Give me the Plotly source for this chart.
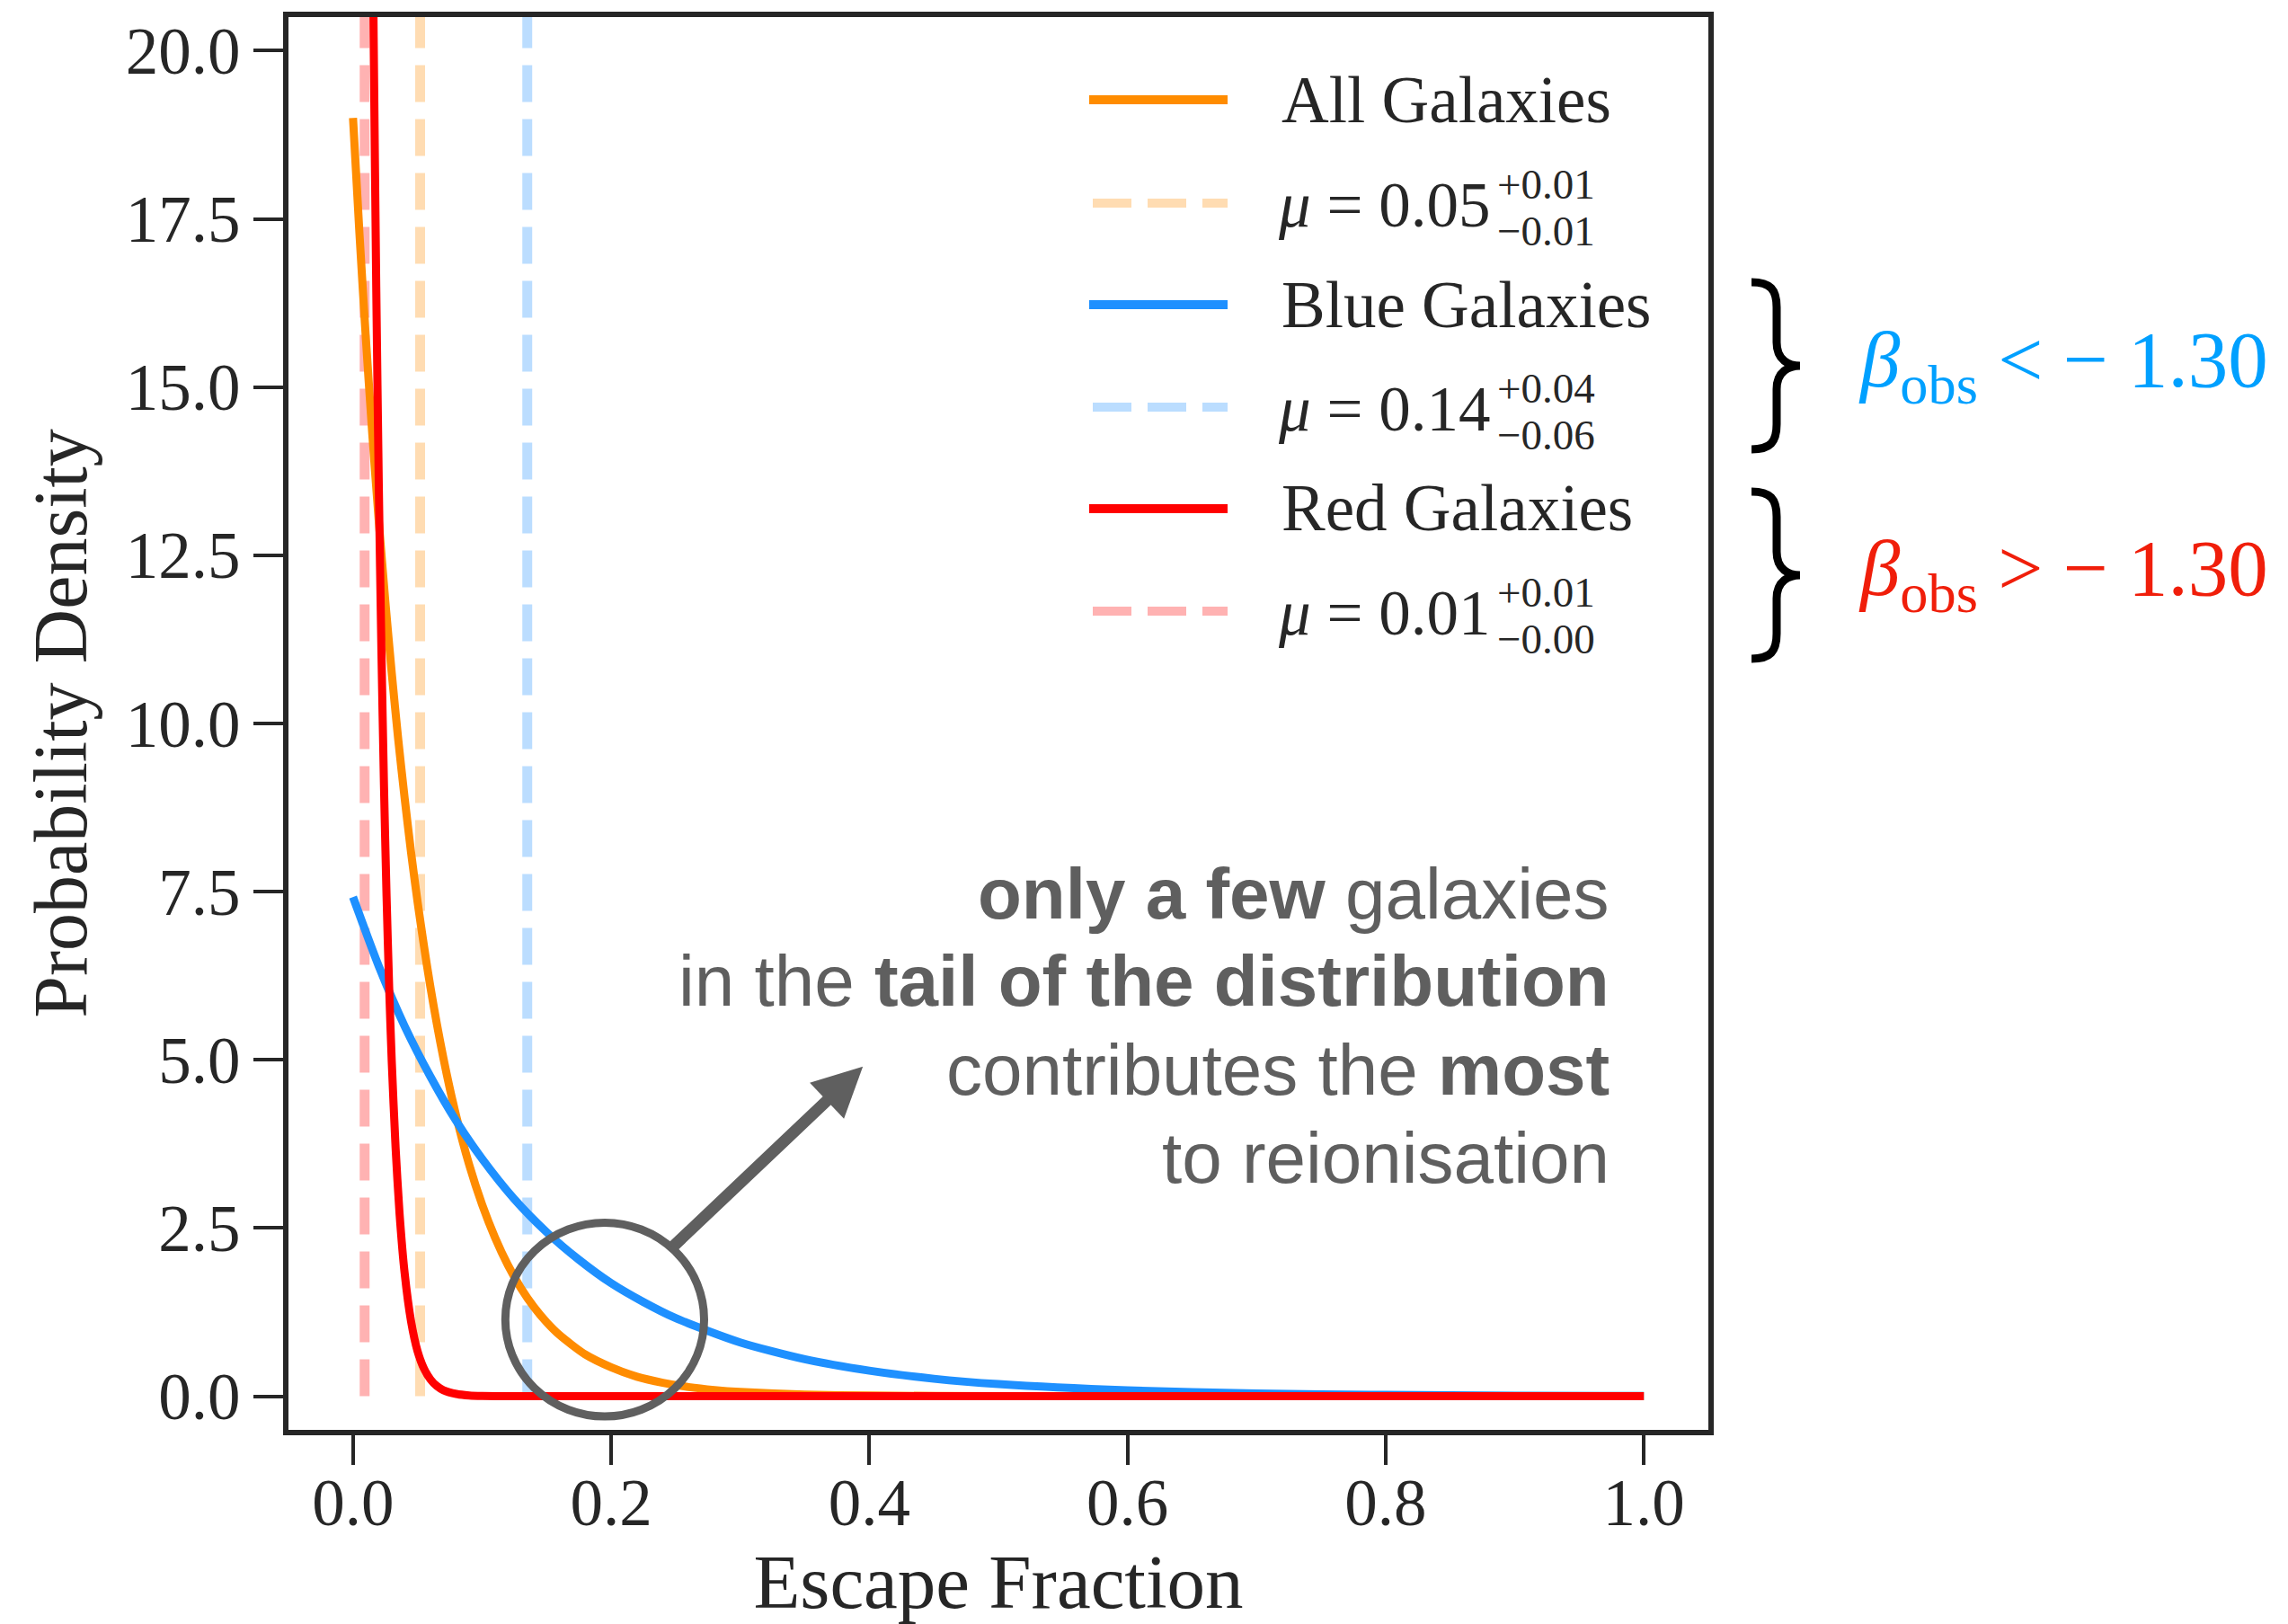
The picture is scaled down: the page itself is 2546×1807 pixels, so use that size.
import plotly.graph_objects as go

# ---------------- data ----------------
all_x = [0.000, 0.005, 0.010, 0.015, 0.020, 0.025, 0.030, 0.035, 0.040, 0.045, 0.050,
         0.060, 0.070, 0.080, 0.090, 0.100, 0.110, 0.120, 0.130, 0.140, 0.150, 0.160,
         0.180, 0.200, 0.220, 0.240, 0.260, 0.280, 0.300, 0.350, 0.400, 0.500, 0.600,
         0.700, 0.800, 0.900, 1.000]
all_y = [19.00, 17.28, 15.71, 14.29, 13.00, 11.82, 10.75, 9.77, 8.89, 8.08, 7.35,
         6.08, 5.03, 4.16, 3.44, 2.85, 2.36, 1.95, 1.61, 1.33, 1.10, 0.91,
         0.62, 0.43, 0.29, 0.20, 0.136, 0.093, 0.064, 0.025, 0.0095, 0.0014, 0.0002,
         0.0, 0.0, 0.0, 0.0]

blue_x = [0.00, 0.02, 0.04, 0.06, 0.08, 0.10, 0.125, 0.15, 0.175, 0.20, 0.225, 0.25,
          0.30, 0.35, 0.40, 0.45, 0.50, 0.60, 0.70, 0.80, 0.90, 1.00]
blue_y = [7.42, 6.39, 5.50, 4.75, 4.09, 3.53, 2.93, 2.44, 2.03, 1.68, 1.40, 1.16,
          0.80, 0.55, 0.38, 0.26, 0.18, 0.087, 0.041, 0.020, 0.009, 0.004]

red_x = [0.000, 0.004, 0.008, 0.012, 0.014, 0.016, 0.018, 0.020, 0.022, 0.024, 0.026,
         0.028, 0.030, 0.033, 0.036, 0.040, 0.045, 0.050, 0.055, 0.060, 0.065, 0.070,
         0.080, 0.090, 0.100, 0.120, 0.150, 0.200, 0.400, 0.600, 0.800, 1.000]
red_y = [100.0, 67.0, 44.9, 30.1, 24.7, 20.2, 16.5, 13.5, 11.1, 9.07, 7.43,
         6.08, 4.98, 3.69, 2.73, 1.83, 1.11, 0.67, 0.41, 0.25, 0.15, 0.09,
         0.034, 0.012, 0.005, 0.0006, 0.0, 0.0, 0.0, 0.0, 0.0, 0.0]

series_names = ["All Galaxies", "Blue Galaxies", "Red Galaxies"]
series_colors = ["#FF8C00", "#1E90FF", "#FF0000"]
mu_lines = [0.052, 0.135, 0.009]          # positions of the dashed mean lines
mu_text = ["0.05", "0.14", "0.01"]
mu_up = ["+0.01", "+0.04", "+0.01"]
mu_dn = ["\u22120.01", "\u22120.06", "\u22120.00"]
dash_colors = ["rgba(255,140,0,0.3)", "rgba(30,144,255,0.3)", "rgba(255,0,0,0.3)"]

x_ticks = [0.0, 0.2, 0.4, 0.6, 0.8, 1.0]
y_ticks = [0.0, 2.5, 5.0, 7.5, 10.0, 12.5, 15.0, 17.5, 20.0]

note_lines = ["<b>only a few</b> galaxies",
              "in the <b>tail of the distribution</b>",
              "contributes the <b>most</b>",
              "to reionisation"]
beta_texts = ["<i>\u03b2</i><sub>obs</sub> &lt; \u2212 1.30",
              "<i>\u03b2</i><sub>obs</sub> &gt; \u2212 1.30"]
beta_colors = ["#00A0FF", "#F01E0A"]

# ---------------- layout geometry ----------------
W, H = 2546, 1807
L, R, T, B = 321, 645, 19, 216
PW, PH = W - L - R, H - T - B
INK = "#262626"
GRAY = "#5f5f5f"
SERIF = "Liberation Serif, Times New Roman, serif"
SANS = "Liberation Sans, Arial, Helvetica, sans-serif"


def pxx(px):
    return (px - L) / PW


def pxy(py):
    return (H - B - py) / PH


fig = go.Figure()

# dashed mean lines (under the curves)
for mu, col in zip(mu_lines, dash_colors):
    fig.add_trace(go.Scatter(x=[mu, mu], y=[0, 21], mode="lines",
                             line=dict(color=col, width=11, dash="41px,19px"),
                             showlegend=False, hoverinfo="skip"))

for xs, ys, name, col in zip([all_x, blue_x, red_x], [all_y, blue_y, red_y],
                             series_names, series_colors):
    fig.add_trace(go.Scatter(x=xs, y=ys, mode="lines", name=name,
                             line=dict(color=col, width=9, shape="spline",
                                       smoothing=0.7),
                             showlegend=False))

shapes = []
annotations = []

# ---------------- manual legend ----------------
row_y = [111, 226, 339, 453, 566, 680]
for i in range(3):
    ys = row_y[2 * i]
    yd = row_y[2 * i + 1]
    shapes.append(dict(type="line", xref="paper", yref="paper",
                       x0=pxx(1212), x1=pxx(1366), y0=pxy(ys), y1=pxy(ys),
                       line=dict(color=series_colors[i], width=10)))
    shapes.append(dict(type="line", xref="paper", yref="paper",
                       x0=pxx(1216), x1=pxx(1366), y0=pxy(yd), y1=pxy(yd),
                       line=dict(color=dash_colors[i], width=10, dash="43px,18px")))
    annotations.append(dict(xref="paper", yref="paper", x=pxx(1424), y=pxy(ys),
                            xanchor="left", yanchor="middle", showarrow=False,
                            text=series_names[i],
                            font=dict(family=SERIF, size=73, color=INK)))
    annotations.append(dict(xref="paper", yref="paper", x=pxx(1420), y=pxy(yd + 2),
                            xanchor="left", yanchor="middle", showarrow=False,
                            text="<i>\u03bc</i> = " + mu_text[i],
                            font=dict(family=SERIF, size=71, color=INK)))
    annotations.append(dict(xref="paper", yref="paper", x=pxx(1664), y=pxy(yd - 21),
                            xanchor="left", yanchor="middle", showarrow=False,
                            text=mu_up[i],
                            font=dict(family=SERIF, size=47, color=INK)))
    annotations.append(dict(xref="paper", yref="paper", x=pxx(1664), y=pxy(yd + 31),
                            xanchor="left", yanchor="middle", showarrow=False,
                            text=mu_dn[i],
                            font=dict(family=SERIF, size=47, color=INK)))

# ---------------- braces + beta labels ----------------
def brace(yt, xt=2003, xv=1977, xe=1949, hh=93):
    pts = [
        ("M", [(xe, yt - hh)]),
        ("C", [(1970, yt - hh), (xv, yt - hh + 8), (xv, yt - hh + 28)]),
        ("L", [(xv, yt - 26)]),
        ("C", [(xv, yt - 6), (xt - 12, yt), (xt, yt)]),
        ("C", [(xt - 12, yt), (xv, yt + 6), (xv, yt + 26)]),
        ("L", [(xv, yt + hh - 28)]),
        ("C", [(xv, yt + hh - 8), (1970, yt + hh), (xe, yt + hh)]),
    ]
    s = ""
    for cmd, p in pts:
        s += cmd + " ".join(f"{pxx(a):.5f},{pxy(b):.5f}" for a, b in p) + " "
    return s.strip()


for yt, ycen, txt, col in zip([407, 640], [398, 630], beta_texts, beta_colors):
    shapes.append(dict(type="path", xref="paper", yref="paper", path=brace(yt),
                       line=dict(color="black", width=9)))
    annotations.append(dict(xref="paper", yref="paper", x=pxx(2066), y=pxy(ycen + 8),
                            xanchor="left", yanchor="middle", showarrow=False,
                            text=txt, font=dict(family=SERIF, size=89, color=col)))

# ---------------- note text, circle and arrow ----------------
for txt, yc in zip(note_lines, [994, 1091, 1190, 1288]):
    annotations.append(dict(xref="paper", yref="paper", x=pxx(1793), y=pxy(yc),
                            xanchor="right", yanchor="middle", showarrow=False,
                            text=txt, font=dict(family=SANS, size=80, color=GRAY)))

shapes.append(dict(type="circle", xref="x", yref="y", x0=0.118, x1=0.272,
                   y0=-0.30, y1=2.58, line=dict(color=GRAY, width=9), layer="above"))

annotations.append(dict(xref="x", yref="y", axref="x", ayref="y",
                        x=0.395, y=4.90, ax=0.246, ay=2.19, text="",
                        showarrow=True, arrowhead=2, arrowsize=0.85, arrowwidth=13,
                        arrowcolor=GRAY, standoff=0, startstandoff=0))

axis_common = dict(showline=True, linewidth=6, linecolor=INK, mirror=True,
                   ticks="outside", ticklen=33, tickwidth=3.5, tickcolor=INK,
                   showgrid=False, zeroline=False,
                   tickfont=dict(family=SERIF, size=73, color=INK))

fig.update_layout(
    width=W, height=H,
    margin=dict(l=L, r=R, t=T, b=B, autoexpand=False),
    paper_bgcolor="white", plot_bgcolor="white",
    showlegend=False,
    xaxis=dict(range=[-0.05, 1.05], tickvals=x_ticks,
               ticktext=[f"{v:.1f}" for v in x_ticks],
               ticklabelstandoff=-21,
               title=dict(text="Escape Fraction", standoff=56,
                          font=dict(family=SERIF, size=85, color=INK)),
               automargin=False, **axis_common),
    yaxis=dict(range=[-0.5, 20.5], tickvals=y_ticks,
               ticktext=[f"{v:.1f}" for v in y_ticks],
               title=dict(text="Probability Density", standoff=17,
                          font=dict(family=SERIF, size=84, color=INK)),
               automargin=False, **axis_common),
    shapes=shapes,
    annotations=annotations,
)

fig.write_html("out.html")
